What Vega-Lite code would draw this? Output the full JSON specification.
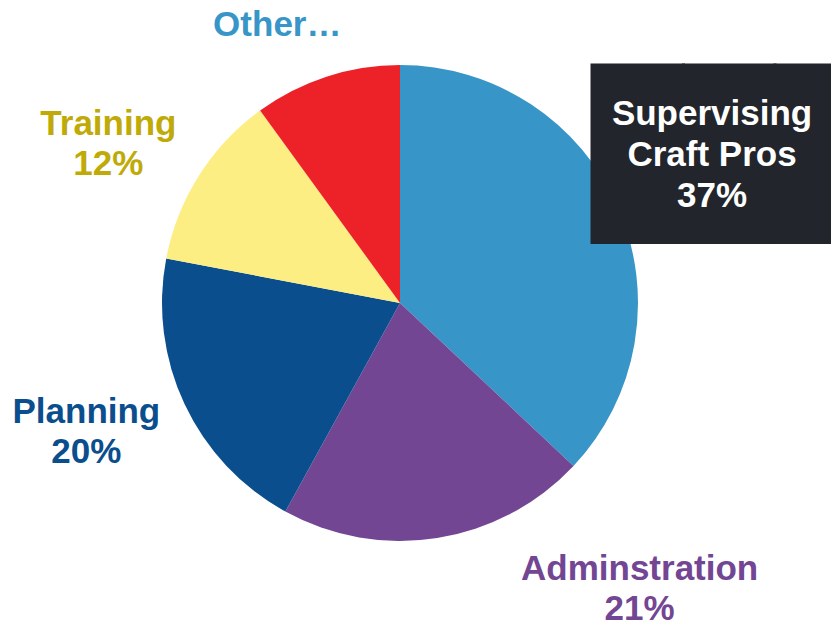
{
  "$schema": "https://vega.github.io/schema/vega-lite/v6.json",
  "width": 800,
  "height": 606,
  "autosize": "none",
  "padding": {"left": 0, "top": 0, "right": 31, "bottom": 18},
  "background": "white",
  "config": {"view": {"stroke": null}},
  "data": {
    "values": [
      {"cat": "Supervising Craft Pros", "label": "Supervising\nCraft Pros\n37%", "value": 37, "order": 1},
      {"cat": "Adminstration", "label": "Adminstration\n21%", "value": 21, "order": 2},
      {"cat": "Planning", "label": "Planning\n20%", "value": 20, "order": 3},
      {"cat": "Training", "label": "Training\n12%", "value": 12, "order": 4},
      {"cat": "Other", "label": "Other…", "value": 10, "order": 5}
    ]
  },
  "encoding": {
    "theta": {"field": "value", "type": "quantitative", "stack": true},
    "order": {"field": "order", "type": "quantitative"},
    "detail": {"field": "cat", "type": "nominal"}
  },
  "layer": [
    {
      "mark": {"type": "arc", "outerRadius": 238},
      "encoding": {
        "color": {
          "field": "cat",
          "type": "nominal",
          "scale": {
            "domain": ["Supervising Craft Pros", "Adminstration", "Planning", "Training", "Other"],
            "range": ["#3796C7", "#734694", "#0B4E8D", "#FCEE82", "#ED2128"]
          },
          "legend": null
        }
      }
    },
    {
      "mark": {"type": "text", "radius": 340, "dx": -120, "dy": 38, "fontSize": 152, "font": "DejaVu Sans Mono", "fill": "#22252B", "baseline": "alphabetic", "align": "left"},
      "encoding": {"text": {"condition": {"test": "datum.cat === 'Supervising Craft Pros'", "value": "███"}, "value": ""}}
    },
    {
      "mark": {"type": "text", "radius": 340, "dx": 0, "dy": -54, "fontSize": 35, "fontWeight": "bold", "font": "Liberation Sans", "lineHeight": 41, "lineBreak": "\n", "fill": "#FFFFFF", "baseline": "middle", "align": "center"},
      "encoding": {"text": {"condition": {"test": "datum.cat === 'Supervising Craft Pros'", "field": "label", "type": "nominal"}, "value": ""}}
    },
    {
      "mark": {"type": "text", "radius": 330, "dx": 188, "dy": -60, "fontSize": 35, "fontWeight": "bold", "font": "Liberation Sans", "lineHeight": 40, "lineBreak": "\n", "fill": "#734694", "baseline": "middle", "align": "center"},
      "encoding": {"text": {"condition": {"test": "datum.cat === 'Adminstration'", "field": "label", "type": "nominal"}, "value": ""}}
    },
    {
      "mark": {"type": "text", "radius": 340, "dx": -6, "dy": -36, "fontSize": 35, "fontWeight": "bold", "font": "Liberation Sans", "lineHeight": 40, "lineBreak": "\n", "fill": "#0B4E8D", "baseline": "middle", "align": "center"},
      "encoding": {"text": {"condition": {"test": "datum.cat === 'Planning'", "field": "label", "type": "nominal"}, "value": ""}}
    },
    {
      "mark": {"type": "text", "radius": 330, "dx": -13, "dy": -2, "fontSize": 35, "fontWeight": "bold", "font": "Liberation Sans", "lineHeight": 40, "lineBreak": "\n", "fill": "#BFAA08", "baseline": "middle", "align": "center"},
      "encoding": {"text": {"condition": {"test": "datum.cat === 'Training'", "field": "label", "type": "nominal"}, "value": ""}}
    },
    {
      "mark": {"type": "text", "radius": 300, "dx": -30, "dy": 7, "fontSize": 35, "fontWeight": "bold", "font": "Liberation Sans", "lineHeight": 40, "lineBreak": "\n", "fill": "#3796C7", "baseline": "middle", "align": "center"},
      "encoding": {"text": {"condition": {"test": "datum.cat === 'Other'", "field": "label", "type": "nominal"}, "value": ""}}
    }
  ]
}
